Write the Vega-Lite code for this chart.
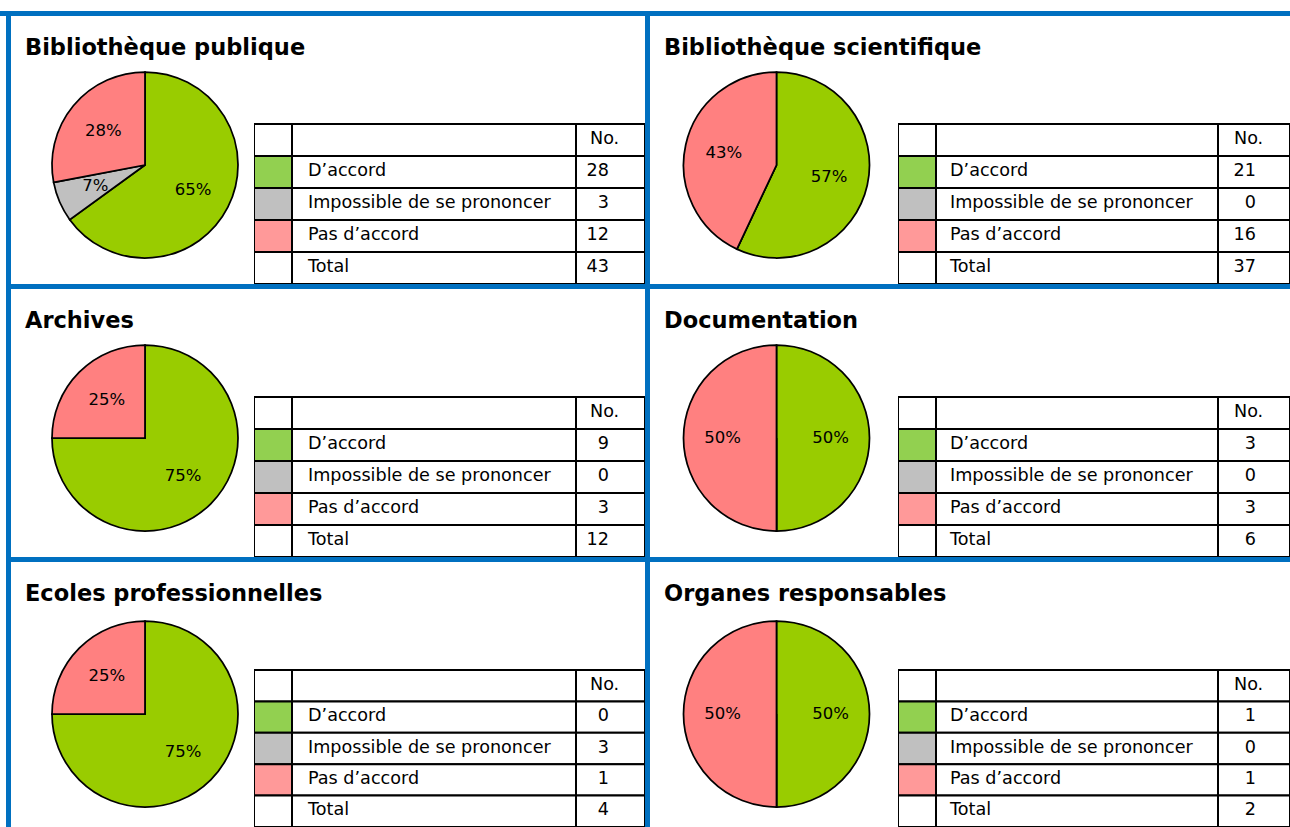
{
"$schema": "https://vega.github.io/schema/vega-lite/v6.json",
"background": "#0070C0",
"padding": 0,
"config": {"view": {"stroke": null, "fill": "white"}, "font": "DejaVu Sans", "text": {"font": "DejaVu Sans"}},
"datasets": {
"blank": [{"s": 1}],
"titles": [
{"panel": "pub", "title": "Bibliothèque publique"},
{"panel": "sci", "title": "Bibliothèque scientifique"},
{"panel": "arch", "title": "Archives"},
{"panel": "doc", "title": "Documentation"},
{"panel": "ecol", "title": "Ecoles professionnelles"},
{"panel": "org", "title": "Organes responsables"}
],
"pie": [
{"panel": "pub", "cat": "D’accord", "v": 65, "pct": "65%"},
{"panel": "pub", "cat": "Impossible de se prononcer", "v": 7, "pct": "7%"},
{"panel": "pub", "cat": "Pas d’accord", "v": 28, "pct": "28%"},
{"panel": "sci", "cat": "D’accord", "v": 57, "pct": "57%"},
{"panel": "sci", "cat": "Impossible de se prononcer", "v": 0, "pct": "0%"},
{"panel": "sci", "cat": "Pas d’accord", "v": 43, "pct": "43%"},
{"panel": "arch", "cat": "D’accord", "v": 75, "pct": "75%"},
{"panel": "arch", "cat": "Impossible de se prononcer", "v": 0, "pct": "0%"},
{"panel": "arch", "cat": "Pas d’accord", "v": 25, "pct": "25%"},
{"panel": "doc", "cat": "D’accord", "v": 50, "pct": "50%"},
{"panel": "doc", "cat": "Impossible de se prononcer", "v": 0, "pct": "0%"},
{"panel": "doc", "cat": "Pas d’accord", "v": 50, "pct": "50%"},
{"panel": "ecol", "cat": "D’accord", "v": 75, "pct": "75%"},
{"panel": "ecol", "cat": "Impossible de se prononcer", "v": 0, "pct": "0%"},
{"panel": "ecol", "cat": "Pas d’accord", "v": 25, "pct": "25%"},
{"panel": "org", "cat": "D’accord", "v": 50, "pct": "50%"},
{"panel": "org", "cat": "Impossible de se prononcer", "v": 0, "pct": "0%"},
{"panel": "org", "cat": "Pas d’accord", "v": 50, "pct": "50%"}
],
"tbl": [
{"panel": "pub", "key": "hdr", "label": "", "no": "No."},
{"panel": "pub", "key": "acc", "label": "D’accord", "no": "28"},
{"panel": "pub", "key": "imp", "label": "Impossible de se prononcer", "no": "3"},
{"panel": "pub", "key": "pas", "label": "Pas d’accord", "no": "12"},
{"panel": "pub", "key": "tot", "label": "Total", "no": "43"},
{"panel": "sci", "key": "hdr", "label": "", "no": "No."},
{"panel": "sci", "key": "acc", "label": "D’accord", "no": "21"},
{"panel": "sci", "key": "imp", "label": "Impossible de se prononcer", "no": "0"},
{"panel": "sci", "key": "pas", "label": "Pas d’accord", "no": "16"},
{"panel": "sci", "key": "tot", "label": "Total", "no": "37"},
{"panel": "arch", "key": "hdr", "label": "", "no": "No."},
{"panel": "arch", "key": "acc", "label": "D’accord", "no": "9"},
{"panel": "arch", "key": "imp", "label": "Impossible de se prononcer", "no": "0"},
{"panel": "arch", "key": "pas", "label": "Pas d’accord", "no": "3"},
{"panel": "arch", "key": "tot", "label": "Total", "no": "12"},
{"panel": "doc", "key": "hdr", "label": "", "no": "No."},
{"panel": "doc", "key": "acc", "label": "D’accord", "no": "3"},
{"panel": "doc", "key": "imp", "label": "Impossible de se prononcer", "no": "0"},
{"panel": "doc", "key": "pas", "label": "Pas d’accord", "no": "3"},
{"panel": "doc", "key": "tot", "label": "Total", "no": "6"},
{"panel": "ecol", "key": "hdr", "label": "", "no": "No."},
{"panel": "ecol", "key": "acc", "label": "D’accord", "no": "0"},
{"panel": "ecol", "key": "imp", "label": "Impossible de se prononcer", "no": "3"},
{"panel": "ecol", "key": "pas", "label": "Pas d’accord", "no": "1"},
{"panel": "ecol", "key": "tot", "label": "Total", "no": "4"},
{"panel": "org", "key": "hdr", "label": "", "no": "No."},
{"panel": "org", "key": "acc", "label": "D’accord", "no": "1"},
{"panel": "org", "key": "imp", "label": "Impossible de se prononcer", "no": "0"},
{"panel": "org", "key": "pas", "label": "Pas d’accord", "no": "1"},
{"panel": "org", "key": "tot", "label": "Total", "no": "2"}
]
},
"spacing": 5,
"vconcat": [
{"width": 1290, "height": 11, "data": {"name": "blank"}, "mark": {"type": "rect", "fill": "white"}, "encoding": {}},
{"spacing": 5, "hconcat": [
{"width": 6, "height": 811, "data": {"name": "blank"}, "mark": {"type": "rect", "fill": "white"}, "encoding": {}},
{"spacing": 5, "vconcat": [
{"spacing": 5, "hconcat": [

{"spacing": 0, "vconcat": [
{"width": 634, "height": 50, "data": {"name": "titles"}, "transform": [{"filter": "datum.panel === 'pub'"}],
 "mark": {"type": "text", "align": "left", "baseline": "alphabetic", "dx": 14, "dy": 14, "fontSize": 22.5, "fontWeight": "bold", "color": "black"},
 "encoding": {"text": {"field": "title"}, "x": {"field": "panel", "type": "nominal", "scale": {"type": "point", "padding": 0, "align": 0}, "axis": null}}},
{"spacing": 0, "hconcat": [
 {"width": 25, "height": 218, "data": {"name": "blank"}, "mark": {"type": "rect", "fill": "white"}, "encoding": {}},
 {"spacing": 0, "vconcat": [
  {"width": 218, "height": 198, "data": {"name": "pie"}, "transform": [{"filter": "datum.panel === 'pub'"}],
   "layer": [
    {"data": {"name": "blank"}, "mark": {"type": "rect", "fill": "white"}, "encoding": {}},
    {"mark": {"type": "arc", "radius": 93, "stroke": "black", "strokeWidth": 1.75},
     "encoding": {"theta": {"field": "v", "type": "quantitative", "stack": true}, "order": {"field": "cat", "sort": "ascending"},
      "color": {"field": "cat", "type": "nominal", "scale": {"domain": ["D’accord", "Impossible de se prononcer", "Pas d’accord"], "range": ["#99CC00", "#C0C0C0", "#FF8080"]}, "legend": null}}},
    {"transform": [{"filter": "datum.v > 0"}], "mark": {"type": "text", "radius": 54, "fontSize": 16.5, "color": "black"},
     "encoding": {"theta": {"field": "v", "type": "quantitative", "stack": true}, "order": {"field": "cat", "sort": "ascending"}, "text": {"field": "pct"}}}
   ]},
  {"width": 218, "height": 20, "data": {"name": "blank"}, "mark": {"type": "rect", "fill": "white"}, "encoding": {}}
 ]},
 {"width": 38, "height": 218, "data": {"name": "tbl"}, "transform": [{"filter": "datum.panel === 'pub'"}],
  "mark": {"type": "rect", "stroke": "black", "strokeWidth": 2, "clip": true},
  "encoding": {"y": {"field": "key", "type": "nominal", "scale": {"domain": ["hdr", "acc", "imp", "pas", "tot"], "paddingInner": 0, "paddingOuter": 0.90625, "align": 1, "round": false}, "axis": null},
   "fill": {"field": "key", "type": "nominal", "scale": {"domain": ["hdr", "acc", "imp", "pas", "tot"], "range": ["#FFFFFF", "#92D050", "#C0C0C0", "#FF9999", "#FFFFFF"]}, "legend": null}}},
 {"width": 284, "height": 218, "data": {"name": "tbl"}, "transform": [{"filter": "datum.panel === 'pub'"}],
  "encoding": {"y": {"field": "key", "type": "nominal", "scale": {"domain": ["hdr", "acc", "imp", "pas", "tot"], "paddingInner": 0, "paddingOuter": 0.90625, "align": 1, "round": false}, "axis": null}},
  "layer": [
   {"mark": {"type": "rect", "fill": "white", "stroke": "black", "strokeWidth": 2, "clip": true}},
   {"mark": {"type": "text", "align": "left", "baseline": "middle", "dx": 16, "dy": -1, "fontSize": 17.6, "color": "black"},
    "encoding": {"text": {"field": "label"}, "x": {"field": "panel", "type": "nominal", "scale": {"type": "point", "padding": 0, "align": 0}, "axis": null}}}
  ]},
 {"width": 69, "height": 218, "data": {"name": "tbl"}, "transform": [{"filter": "datum.panel === 'pub'"}],
  "encoding": {"y": {"field": "key", "type": "nominal", "scale": {"domain": ["hdr", "acc", "imp", "pas", "tot"], "paddingInner": 0, "paddingOuter": 0.90625, "align": 1, "round": false}, "axis": null}},
  "layer": [
   {"mark": {"type": "rect", "fill": "white", "stroke": "black", "strokeWidth": 2, "clip": true}},
   {"transform": [{"filter": "datum.key === 'hdr'"}], "mark": {"type": "text", "align": "left", "baseline": "middle", "dx": 14, "dy": -1, "fontSize": 17.6, "color": "black"},
    "encoding": {"text": {"field": "no"}, "x": {"field": "panel", "type": "nominal", "scale": {"type": "point", "padding": 0, "align": 0}, "axis": null}}},
   {"transform": [{"filter": "datum.key !== 'hdr'"}], "mark": {"type": "text", "align": "right", "baseline": "middle", "dx": 33, "dy": -1, "fontSize": 17.6, "color": "black"},
    "encoding": {"text": {"field": "no"}, "x": {"field": "panel", "type": "nominal", "scale": {"type": "point", "padding": 0, "align": 0}, "axis": null}}}
  ]}
]}
]},

{"spacing": 0, "vconcat": [
{"width": 640, "height": 50, "data": {"name": "titles"}, "transform": [{"filter": "datum.panel === 'sci'"}],
 "mark": {"type": "text", "align": "left", "baseline": "alphabetic", "dx": 14, "dy": 14, "fontSize": 22.5, "fontWeight": "bold", "color": "black"},
 "encoding": {"text": {"field": "title"}, "x": {"field": "panel", "type": "nominal", "scale": {"type": "point", "padding": 0, "align": 0}, "axis": null}}},
{"spacing": 0, "hconcat": [
 {"width": 5, "height": 218, "data": {"name": "blank"}, "mark": {"type": "rect", "fill": "white"}, "encoding": {}},
 {"spacing": 0, "vconcat": [
  {"width": 243, "height": 198, "data": {"name": "pie"}, "transform": [{"filter": "datum.panel === 'sci'"}],
   "layer": [
    {"data": {"name": "blank"}, "mark": {"type": "rect", "fill": "white"}, "encoding": {}},
    {"mark": {"type": "arc", "radius": 93, "stroke": "black", "strokeWidth": 1.75},
     "encoding": {"theta": {"field": "v", "type": "quantitative", "stack": true}, "order": {"field": "cat", "sort": "ascending"},
      "color": {"field": "cat", "type": "nominal", "scale": {"domain": ["D’accord", "Impossible de se prononcer", "Pas d’accord"], "range": ["#99CC00", "#C0C0C0", "#FF8080"]}, "legend": null}}},
    {"transform": [{"filter": "datum.v > 0"}], "mark": {"type": "text", "radius": 54, "fontSize": 16.5, "color": "black"},
     "encoding": {"theta": {"field": "v", "type": "quantitative", "stack": true}, "order": {"field": "cat", "sort": "ascending"}, "text": {"field": "pct"}}}
   ]},
  {"width": 243, "height": 20, "data": {"name": "blank"}, "mark": {"type": "rect", "fill": "white"}, "encoding": {}}
 ]},
 {"width": 38, "height": 218, "data": {"name": "tbl"}, "transform": [{"filter": "datum.panel === 'sci'"}],
  "mark": {"type": "rect", "stroke": "black", "strokeWidth": 2, "clip": true},
  "encoding": {"y": {"field": "key", "type": "nominal", "scale": {"domain": ["hdr", "acc", "imp", "pas", "tot"], "paddingInner": 0, "paddingOuter": 0.90625, "align": 1, "round": false}, "axis": null},
   "fill": {"field": "key", "type": "nominal", "scale": {"domain": ["hdr", "acc", "imp", "pas", "tot"], "range": ["#FFFFFF", "#92D050", "#C0C0C0", "#FF9999", "#FFFFFF"]}, "legend": null}}},
 {"width": 282, "height": 218, "data": {"name": "tbl"}, "transform": [{"filter": "datum.panel === 'sci'"}],
  "encoding": {"y": {"field": "key", "type": "nominal", "scale": {"domain": ["hdr", "acc", "imp", "pas", "tot"], "paddingInner": 0, "paddingOuter": 0.90625, "align": 1, "round": false}, "axis": null}},
  "layer": [
   {"mark": {"type": "rect", "fill": "white", "stroke": "black", "strokeWidth": 2, "clip": true}},
   {"mark": {"type": "text", "align": "left", "baseline": "middle", "dx": 14, "dy": -1, "fontSize": 17.6, "color": "black"},
    "encoding": {"text": {"field": "label"}, "x": {"field": "panel", "type": "nominal", "scale": {"type": "point", "padding": 0, "align": 0}, "axis": null}}}
  ]},
 {"width": 72, "height": 218, "data": {"name": "tbl"}, "transform": [{"filter": "datum.panel === 'sci'"}],
  "encoding": {"y": {"field": "key", "type": "nominal", "scale": {"domain": ["hdr", "acc", "imp", "pas", "tot"], "paddingInner": 0, "paddingOuter": 0.90625, "align": 1, "round": false}, "axis": null}},
  "layer": [
   {"mark": {"type": "rect", "fill": "white", "stroke": "black", "strokeWidth": 2, "clip": true}},
   {"transform": [{"filter": "datum.key === 'hdr'"}], "mark": {"type": "text", "align": "left", "baseline": "middle", "dx": 16, "dy": -1, "fontSize": 17.6, "color": "black"},
    "encoding": {"text": {"field": "no"}, "x": {"field": "panel", "type": "nominal", "scale": {"type": "point", "padding": 0, "align": 0}, "axis": null}}},
   {"transform": [{"filter": "datum.key !== 'hdr'"}], "mark": {"type": "text", "align": "right", "baseline": "middle", "dx": 38, "dy": -1, "fontSize": 17.6, "color": "black"},
    "encoding": {"text": {"field": "no"}, "x": {"field": "panel", "type": "nominal", "scale": {"type": "point", "padding": 0, "align": 0}, "axis": null}}}
  ]}
]}
]}
]},

{"spacing": 5, "hconcat": [

{"spacing": 0, "vconcat": [
{"width": 634, "height": 50, "data": {"name": "titles"}, "transform": [{"filter": "datum.panel === 'arch'"}],
 "mark": {"type": "text", "align": "left", "baseline": "alphabetic", "dx": 14, "dy": 14, "fontSize": 22.5, "fontWeight": "bold", "color": "black"},
 "encoding": {"text": {"field": "title"}, "x": {"field": "panel", "type": "nominal", "scale": {"type": "point", "padding": 0, "align": 0}, "axis": null}}},
{"spacing": 0, "hconcat": [
 {"width": 25, "height": 218, "data": {"name": "blank"}, "mark": {"type": "rect", "fill": "white"}, "encoding": {}},
 {"spacing": 0, "vconcat": [
  {"width": 218, "height": 198, "data": {"name": "pie"}, "transform": [{"filter": "datum.panel === 'arch'"}],
   "layer": [
    {"data": {"name": "blank"}, "mark": {"type": "rect", "fill": "white"}, "encoding": {}},
    {"mark": {"type": "arc", "radius": 93, "stroke": "black", "strokeWidth": 1.75},
     "encoding": {"theta": {"field": "v", "type": "quantitative", "stack": true}, "order": {"field": "cat", "sort": "ascending"},
      "color": {"field": "cat", "type": "nominal", "scale": {"domain": ["D’accord", "Impossible de se prononcer", "Pas d’accord"], "range": ["#99CC00", "#C0C0C0", "#FF8080"]}, "legend": null}}},
    {"transform": [{"filter": "datum.v > 0"}], "mark": {"type": "text", "radius": 54, "fontSize": 16.5, "color": "black"},
     "encoding": {"theta": {"field": "v", "type": "quantitative", "stack": true}, "order": {"field": "cat", "sort": "ascending"}, "text": {"field": "pct"}}}
   ]},
  {"width": 218, "height": 20, "data": {"name": "blank"}, "mark": {"type": "rect", "fill": "white"}, "encoding": {}}
 ]},
 {"width": 38, "height": 218, "data": {"name": "tbl"}, "transform": [{"filter": "datum.panel === 'arch'"}],
  "mark": {"type": "rect", "stroke": "black", "strokeWidth": 2, "clip": true},
  "encoding": {"y": {"field": "key", "type": "nominal", "scale": {"domain": ["hdr", "acc", "imp", "pas", "tot"], "paddingInner": 0, "paddingOuter": 0.90625, "align": 1, "round": false}, "axis": null},
   "fill": {"field": "key", "type": "nominal", "scale": {"domain": ["hdr", "acc", "imp", "pas", "tot"], "range": ["#FFFFFF", "#92D050", "#C0C0C0", "#FF9999", "#FFFFFF"]}, "legend": null}}},
 {"width": 284, "height": 218, "data": {"name": "tbl"}, "transform": [{"filter": "datum.panel === 'arch'"}],
  "encoding": {"y": {"field": "key", "type": "nominal", "scale": {"domain": ["hdr", "acc", "imp", "pas", "tot"], "paddingInner": 0, "paddingOuter": 0.90625, "align": 1, "round": false}, "axis": null}},
  "layer": [
   {"mark": {"type": "rect", "fill": "white", "stroke": "black", "strokeWidth": 2, "clip": true}},
   {"mark": {"type": "text", "align": "left", "baseline": "middle", "dx": 16, "dy": -1, "fontSize": 17.6, "color": "black"},
    "encoding": {"text": {"field": "label"}, "x": {"field": "panel", "type": "nominal", "scale": {"type": "point", "padding": 0, "align": 0}, "axis": null}}}
  ]},
 {"width": 69, "height": 218, "data": {"name": "tbl"}, "transform": [{"filter": "datum.panel === 'arch'"}],
  "encoding": {"y": {"field": "key", "type": "nominal", "scale": {"domain": ["hdr", "acc", "imp", "pas", "tot"], "paddingInner": 0, "paddingOuter": 0.90625, "align": 1, "round": false}, "axis": null}},
  "layer": [
   {"mark": {"type": "rect", "fill": "white", "stroke": "black", "strokeWidth": 2, "clip": true}},
   {"transform": [{"filter": "datum.key === 'hdr'"}], "mark": {"type": "text", "align": "left", "baseline": "middle", "dx": 14, "dy": -1, "fontSize": 17.6, "color": "black"},
    "encoding": {"text": {"field": "no"}, "x": {"field": "panel", "type": "nominal", "scale": {"type": "point", "padding": 0, "align": 0}, "axis": null}}},
   {"transform": [{"filter": "datum.key !== 'hdr'"}], "mark": {"type": "text", "align": "right", "baseline": "middle", "dx": 33, "dy": -1, "fontSize": 17.6, "color": "black"},
    "encoding": {"text": {"field": "no"}, "x": {"field": "panel", "type": "nominal", "scale": {"type": "point", "padding": 0, "align": 0}, "axis": null}}}
  ]}
]}
]},

{"spacing": 0, "vconcat": [
{"width": 640, "height": 50, "data": {"name": "titles"}, "transform": [{"filter": "datum.panel === 'doc'"}],
 "mark": {"type": "text", "align": "left", "baseline": "alphabetic", "dx": 14, "dy": 14, "fontSize": 22.5, "fontWeight": "bold", "color": "black"},
 "encoding": {"text": {"field": "title"}, "x": {"field": "panel", "type": "nominal", "scale": {"type": "point", "padding": 0, "align": 0}, "axis": null}}},
{"spacing": 0, "hconcat": [
 {"width": 5, "height": 218, "data": {"name": "blank"}, "mark": {"type": "rect", "fill": "white"}, "encoding": {}},
 {"spacing": 0, "vconcat": [
  {"width": 243, "height": 198, "data": {"name": "pie"}, "transform": [{"filter": "datum.panel === 'doc'"}],
   "layer": [
    {"data": {"name": "blank"}, "mark": {"type": "rect", "fill": "white"}, "encoding": {}},
    {"mark": {"type": "arc", "radius": 93, "stroke": "black", "strokeWidth": 1.75},
     "encoding": {"theta": {"field": "v", "type": "quantitative", "stack": true}, "order": {"field": "cat", "sort": "ascending"},
      "color": {"field": "cat", "type": "nominal", "scale": {"domain": ["D’accord", "Impossible de se prononcer", "Pas d’accord"], "range": ["#99CC00", "#C0C0C0", "#FF8080"]}, "legend": null}}},
    {"transform": [{"filter": "datum.v > 0"}], "mark": {"type": "text", "radius": 54, "fontSize": 16.5, "color": "black"},
     "encoding": {"theta": {"field": "v", "type": "quantitative", "stack": true}, "order": {"field": "cat", "sort": "ascending"}, "text": {"field": "pct"}}}
   ]},
  {"width": 243, "height": 20, "data": {"name": "blank"}, "mark": {"type": "rect", "fill": "white"}, "encoding": {}}
 ]},
 {"width": 38, "height": 218, "data": {"name": "tbl"}, "transform": [{"filter": "datum.panel === 'doc'"}],
  "mark": {"type": "rect", "stroke": "black", "strokeWidth": 2, "clip": true},
  "encoding": {"y": {"field": "key", "type": "nominal", "scale": {"domain": ["hdr", "acc", "imp", "pas", "tot"], "paddingInner": 0, "paddingOuter": 0.90625, "align": 1, "round": false}, "axis": null},
   "fill": {"field": "key", "type": "nominal", "scale": {"domain": ["hdr", "acc", "imp", "pas", "tot"], "range": ["#FFFFFF", "#92D050", "#C0C0C0", "#FF9999", "#FFFFFF"]}, "legend": null}}},
 {"width": 282, "height": 218, "data": {"name": "tbl"}, "transform": [{"filter": "datum.panel === 'doc'"}],
  "encoding": {"y": {"field": "key", "type": "nominal", "scale": {"domain": ["hdr", "acc", "imp", "pas", "tot"], "paddingInner": 0, "paddingOuter": 0.90625, "align": 1, "round": false}, "axis": null}},
  "layer": [
   {"mark": {"type": "rect", "fill": "white", "stroke": "black", "strokeWidth": 2, "clip": true}},
   {"mark": {"type": "text", "align": "left", "baseline": "middle", "dx": 14, "dy": -1, "fontSize": 17.6, "color": "black"},
    "encoding": {"text": {"field": "label"}, "x": {"field": "panel", "type": "nominal", "scale": {"type": "point", "padding": 0, "align": 0}, "axis": null}}}
  ]},
 {"width": 72, "height": 218, "data": {"name": "tbl"}, "transform": [{"filter": "datum.panel === 'doc'"}],
  "encoding": {"y": {"field": "key", "type": "nominal", "scale": {"domain": ["hdr", "acc", "imp", "pas", "tot"], "paddingInner": 0, "paddingOuter": 0.90625, "align": 1, "round": false}, "axis": null}},
  "layer": [
   {"mark": {"type": "rect", "fill": "white", "stroke": "black", "strokeWidth": 2, "clip": true}},
   {"transform": [{"filter": "datum.key === 'hdr'"}], "mark": {"type": "text", "align": "left", "baseline": "middle", "dx": 16, "dy": -1, "fontSize": 17.6, "color": "black"},
    "encoding": {"text": {"field": "no"}, "x": {"field": "panel", "type": "nominal", "scale": {"type": "point", "padding": 0, "align": 0}, "axis": null}}},
   {"transform": [{"filter": "datum.key !== 'hdr'"}], "mark": {"type": "text", "align": "right", "baseline": "middle", "dx": 38, "dy": -1, "fontSize": 17.6, "color": "black"},
    "encoding": {"text": {"field": "no"}, "x": {"field": "panel", "type": "nominal", "scale": {"type": "point", "padding": 0, "align": 0}, "axis": null}}}
  ]}
]}
]}
]},

{"spacing": 5, "hconcat": [

{"spacing": 0, "vconcat": [
{"width": 634, "height": 50, "data": {"name": "titles"}, "transform": [{"filter": "datum.panel === 'ecol'"}],
 "mark": {"type": "text", "align": "left", "baseline": "alphabetic", "dx": 14, "dy": 14, "fontSize": 22.5, "fontWeight": "bold", "color": "black"},
 "encoding": {"text": {"field": "title"}, "x": {"field": "panel", "type": "nominal", "scale": {"type": "point", "padding": 0, "align": 0}, "axis": null}}},
{"spacing": 0, "hconcat": [
 {"width": 25, "height": 215, "data": {"name": "blank"}, "mark": {"type": "rect", "fill": "white"}, "encoding": {}},
 {"spacing": 0, "vconcat": [
  {"width": 218, "height": 204, "data": {"name": "pie"}, "transform": [{"filter": "datum.panel === 'ecol'"}],
   "layer": [
    {"data": {"name": "blank"}, "mark": {"type": "rect", "fill": "white"}, "encoding": {}},
    {"mark": {"type": "arc", "radius": 93, "stroke": "black", "strokeWidth": 1.75},
     "encoding": {"theta": {"field": "v", "type": "quantitative", "stack": true}, "order": {"field": "cat", "sort": "ascending"},
      "color": {"field": "cat", "type": "nominal", "scale": {"domain": ["D’accord", "Impossible de se prononcer", "Pas d’accord"], "range": ["#99CC00", "#C0C0C0", "#FF8080"]}, "legend": null}}},
    {"transform": [{"filter": "datum.v > 0"}], "mark": {"type": "text", "radius": 54, "fontSize": 16.5, "color": "black"},
     "encoding": {"theta": {"field": "v", "type": "quantitative", "stack": true}, "order": {"field": "cat", "sort": "ascending"}, "text": {"field": "pct"}}}
   ]},
  {"width": 218, "height": 11, "data": {"name": "blank"}, "mark": {"type": "rect", "fill": "white"}, "encoding": {}}
 ]},
 {"width": 38, "height": 215, "data": {"name": "tbl"}, "transform": [{"filter": "datum.panel === 'ecol'"}],
  "mark": {"type": "rect", "stroke": "black", "strokeWidth": 2, "clip": true},
  "encoding": {"y": {"field": "key", "type": "nominal", "scale": {"domain": ["hdr", "acc", "imp", "pas", "tot"], "paddingInner": 0, "paddingOuter": 0.92357, "align": 1, "round": false}, "axis": null},
   "fill": {"field": "key", "type": "nominal", "scale": {"domain": ["hdr", "acc", "imp", "pas", "tot"], "range": ["#FFFFFF", "#92D050", "#C0C0C0", "#FF9999", "#FFFFFF"]}, "legend": null}}},
 {"width": 284, "height": 215, "data": {"name": "tbl"}, "transform": [{"filter": "datum.panel === 'ecol'"}],
  "encoding": {"y": {"field": "key", "type": "nominal", "scale": {"domain": ["hdr", "acc", "imp", "pas", "tot"], "paddingInner": 0, "paddingOuter": 0.92357, "align": 1, "round": false}, "axis": null}},
  "layer": [
   {"mark": {"type": "rect", "fill": "white", "stroke": "black", "strokeWidth": 2, "clip": true}},
   {"mark": {"type": "text", "align": "left", "baseline": "middle", "dx": 16, "dy": -1, "fontSize": 17.6, "color": "black"},
    "encoding": {"text": {"field": "label"}, "x": {"field": "panel", "type": "nominal", "scale": {"type": "point", "padding": 0, "align": 0}, "axis": null}}}
  ]},
 {"width": 69, "height": 215, "data": {"name": "tbl"}, "transform": [{"filter": "datum.panel === 'ecol'"}],
  "encoding": {"y": {"field": "key", "type": "nominal", "scale": {"domain": ["hdr", "acc", "imp", "pas", "tot"], "paddingInner": 0, "paddingOuter": 0.92357, "align": 1, "round": false}, "axis": null}},
  "layer": [
   {"mark": {"type": "rect", "fill": "white", "stroke": "black", "strokeWidth": 2, "clip": true}},
   {"transform": [{"filter": "datum.key === 'hdr'"}], "mark": {"type": "text", "align": "left", "baseline": "middle", "dx": 14, "dy": -1, "fontSize": 17.6, "color": "black"},
    "encoding": {"text": {"field": "no"}, "x": {"field": "panel", "type": "nominal", "scale": {"type": "point", "padding": 0, "align": 0}, "axis": null}}},
   {"transform": [{"filter": "datum.key !== 'hdr'"}], "mark": {"type": "text", "align": "right", "baseline": "middle", "dx": 33, "dy": -1, "fontSize": 17.6, "color": "black"},
    "encoding": {"text": {"field": "no"}, "x": {"field": "panel", "type": "nominal", "scale": {"type": "point", "padding": 0, "align": 0}, "axis": null}}}
  ]}
]}
]},

{"spacing": 0, "vconcat": [
{"width": 640, "height": 50, "data": {"name": "titles"}, "transform": [{"filter": "datum.panel === 'org'"}],
 "mark": {"type": "text", "align": "left", "baseline": "alphabetic", "dx": 14, "dy": 14, "fontSize": 22.5, "fontWeight": "bold", "color": "black"},
 "encoding": {"text": {"field": "title"}, "x": {"field": "panel", "type": "nominal", "scale": {"type": "point", "padding": 0, "align": 0}, "axis": null}}},
{"spacing": 0, "hconcat": [
 {"width": 5, "height": 215, "data": {"name": "blank"}, "mark": {"type": "rect", "fill": "white"}, "encoding": {}},
 {"spacing": 0, "vconcat": [
  {"width": 243, "height": 204, "data": {"name": "pie"}, "transform": [{"filter": "datum.panel === 'org'"}],
   "layer": [
    {"data": {"name": "blank"}, "mark": {"type": "rect", "fill": "white"}, "encoding": {}},
    {"mark": {"type": "arc", "radius": 93, "stroke": "black", "strokeWidth": 1.75},
     "encoding": {"theta": {"field": "v", "type": "quantitative", "stack": true}, "order": {"field": "cat", "sort": "ascending"},
      "color": {"field": "cat", "type": "nominal", "scale": {"domain": ["D’accord", "Impossible de se prononcer", "Pas d’accord"], "range": ["#99CC00", "#C0C0C0", "#FF8080"]}, "legend": null}}},
    {"transform": [{"filter": "datum.v > 0"}], "mark": {"type": "text", "radius": 54, "fontSize": 16.5, "color": "black"},
     "encoding": {"theta": {"field": "v", "type": "quantitative", "stack": true}, "order": {"field": "cat", "sort": "ascending"}, "text": {"field": "pct"}}}
   ]},
  {"width": 243, "height": 11, "data": {"name": "blank"}, "mark": {"type": "rect", "fill": "white"}, "encoding": {}}
 ]},
 {"width": 38, "height": 215, "data": {"name": "tbl"}, "transform": [{"filter": "datum.panel === 'org'"}],
  "mark": {"type": "rect", "stroke": "black", "strokeWidth": 2, "clip": true},
  "encoding": {"y": {"field": "key", "type": "nominal", "scale": {"domain": ["hdr", "acc", "imp", "pas", "tot"], "paddingInner": 0, "paddingOuter": 0.92357, "align": 1, "round": false}, "axis": null},
   "fill": {"field": "key", "type": "nominal", "scale": {"domain": ["hdr", "acc", "imp", "pas", "tot"], "range": ["#FFFFFF", "#92D050", "#C0C0C0", "#FF9999", "#FFFFFF"]}, "legend": null}}},
 {"width": 282, "height": 215, "data": {"name": "tbl"}, "transform": [{"filter": "datum.panel === 'org'"}],
  "encoding": {"y": {"field": "key", "type": "nominal", "scale": {"domain": ["hdr", "acc", "imp", "pas", "tot"], "paddingInner": 0, "paddingOuter": 0.92357, "align": 1, "round": false}, "axis": null}},
  "layer": [
   {"mark": {"type": "rect", "fill": "white", "stroke": "black", "strokeWidth": 2, "clip": true}},
   {"mark": {"type": "text", "align": "left", "baseline": "middle", "dx": 14, "dy": -1, "fontSize": 17.6, "color": "black"},
    "encoding": {"text": {"field": "label"}, "x": {"field": "panel", "type": "nominal", "scale": {"type": "point", "padding": 0, "align": 0}, "axis": null}}}
  ]},
 {"width": 72, "height": 215, "data": {"name": "tbl"}, "transform": [{"filter": "datum.panel === 'org'"}],
  "encoding": {"y": {"field": "key", "type": "nominal", "scale": {"domain": ["hdr", "acc", "imp", "pas", "tot"], "paddingInner": 0, "paddingOuter": 0.92357, "align": 1, "round": false}, "axis": null}},
  "layer": [
   {"mark": {"type": "rect", "fill": "white", "stroke": "black", "strokeWidth": 2, "clip": true}},
   {"transform": [{"filter": "datum.key === 'hdr'"}], "mark": {"type": "text", "align": "left", "baseline": "middle", "dx": 16, "dy": -1, "fontSize": 17.6, "color": "black"},
    "encoding": {"text": {"field": "no"}, "x": {"field": "panel", "type": "nominal", "scale": {"type": "point", "padding": 0, "align": 0}, "axis": null}}},
   {"transform": [{"filter": "datum.key !== 'hdr'"}], "mark": {"type": "text", "align": "right", "baseline": "middle", "dx": 38, "dy": -1, "fontSize": 17.6, "color": "black"},
    "encoding": {"text": {"field": "no"}, "x": {"field": "panel", "type": "nominal", "scale": {"type": "point", "padding": 0, "align": 0}, "axis": null}}}
  ]}
]}
]}
]}
]}
]}
]
}
